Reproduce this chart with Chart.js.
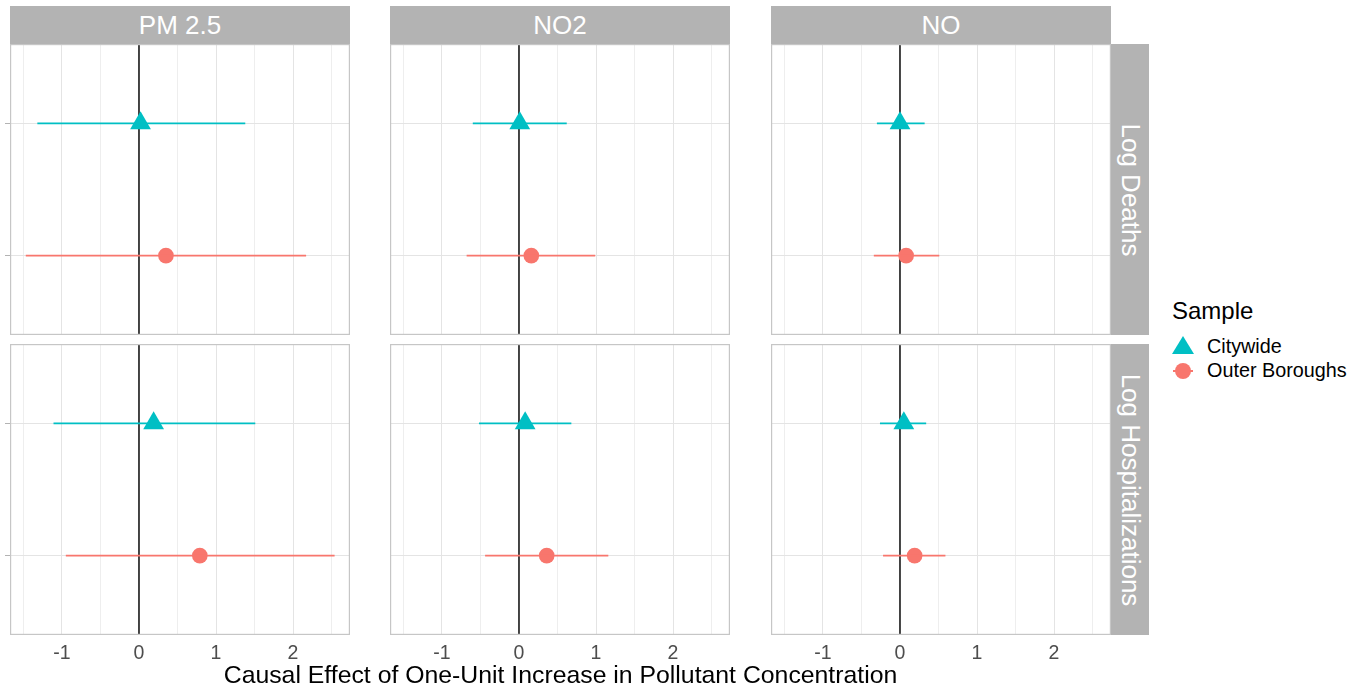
<!DOCTYPE html>
<html>
<head>
<meta charset="utf-8">
<title>Causal effect by pollutant</title>
<script src="https://cdn.jsdelivr.net/npm/chart.js@4.4.0/dist/chart.umd.min.js"></script>
<style>
  body { margin: 0; background: #fff; font-family: "Liberation Sans", Arial, Helvetica, sans-serif; }
  #wrap { position: relative; width: 1366px; height: 690px; overflow: hidden; }
  #wrap canvas { position: absolute; }
  .strip-top { position: absolute; top: 6px; height: 38px; width: 340px; background: #b3b3b3;
               color: #fff; font-size: 26px; line-height: 38px; text-align: center; }
  .strip-right { position: absolute; left: 1111px; width: 38px; background: #b3b3b3; }
  .strip-right span { position: absolute; left: 50%; top: 50%; color: #fff; font-size: 26px;
                      white-space: nowrap; transform: translate(-50%, -50%) rotate(90deg); }
  #xtitle { position: absolute; left: 10px; width: 1101px; top: 660px; line-height: 30px;
            text-align: center; font-size: 24.8px; color: #000; }
  .leg-title { position: absolute; left: 1172px; top: 296px; font-size: 24px; line-height: 30px; }
  .leg-label { position: absolute; left: 1207px; font-size: 19.8px; line-height: 24px; }
  .tri { position: absolute; width: 0; height: 0; border-left: 11px solid transparent;
         border-right: 11px solid transparent; border-bottom: 18px solid #00BFC4; }
  .dot { position: absolute; width: 16px; height: 16px; border-radius: 50%; background: #F8766D; }
  .dash { position: absolute; height: 2px; background: #F8766D; }
</style>
</head>
<body>
<div id="wrap"></div>
<script>
// facets
const pollutants = ['PM 2.5', 'NO2', 'NO'];
const outcomes = ['Log Deaths', 'Log Hospitalizations'];
const samples = ['Citywide', 'Outer Boroughs'];
const sampleColors = ['#00BFC4', '#F8766D'];

// estimates, rows = outcome, cols = pollutant
const citywideEst  = [[0.02, 0.01, 0.00], [0.19, 0.08, 0.05]];
const citywideLow  = [[-1.32, -0.60, -0.30], [-1.11, -0.52, -0.26]];
const citywideHigh = [[1.38, 0.62, 0.32], [1.51, 0.68, 0.34]];
const outerEst  = [[0.35, 0.16, 0.08], [0.79, 0.36, 0.19]];
const outerLow  = [[-1.47, -0.68, -0.34], [-0.95, -0.44, -0.22]];
const outerHigh = [[2.17, 0.99, 0.51], [2.54, 1.16, 0.59]];

const xTicks = [-1.5, -1, -0.5, 0, 0.5, 1, 1.5, 2, 2.5];
const xMin = -1.675, xMax = 2.74;
const refLine = 0;

const wrap = document.getElementById('wrap');
const colLeft = [10, 390, 771];
const rowTop = [44, 344];
const panelW = 340, panelH = 291;

// panel border + zero line
const panelDeco = {
    id: 'panelDeco',
    beforeDatasetsDraw(chart) {
        const { ctx, chartArea: a, scales } = chart;
        const x = scales.x.getPixelForValue(refLine);
        ctx.save();
        ctx.strokeStyle = '#1a1a1a';
        ctx.lineWidth = 1.6;
        ctx.beginPath();
        ctx.moveTo(x, a.top);
        ctx.lineTo(x, a.bottom);
        ctx.stroke();
        ctx.restore();
    },
    afterDraw(chart) {
        const { ctx, chartArea: a } = chart;
        ctx.save();
        ctx.strokeStyle = '#c6c6c6';
        ctx.lineWidth = 1.2;
        ctx.strokeRect(a.left + 0.6, a.top + 0.6, a.right - a.left - 1.2, a.bottom - a.top - 1.2);
        ctx.restore();
    }
};

function makePanel(r, c) {
    const extraL = c === 0 ? 5 : 0;
    const extraB = r === 1 ? 32 : 0;
    const cv = document.createElement('canvas');
    cv.width = panelW + extraL;
    cv.height = panelH + extraB;
    cv.style.left = (colLeft[c] - extraL) + 'px';
    cv.style.top = rowTop[r] + 'px';
    wrap.appendChild(cv);

    const est = [citywideEst[r][c], outerEst[r][c]];
    const low = [citywideLow[r][c], outerLow[r][c]];
    const high = [citywideHigh[r][c], outerHigh[r][c]];

    const datasets = [];
    samples.forEach((s, i) => {
        datasets.push({
            label: s + ' interval',
            data: [{ x: low[i], y: i }, { x: high[i], y: i }],
            showLine: true,
            borderColor: sampleColors[i],
            borderWidth: 1.7,
            pointRadius: 0
        });
    });
    samples.forEach((s, i) => {
        datasets.push({
            label: s,
            data: [{ x: est[i], y: i }],
            pointStyle: i === 0 ? 'triangle' : 'circle',
            pointRadius: i === 0 ? 12 : 7.8,
            backgroundColor: sampleColors[i],
            borderWidth: 0
        });
    });

    new Chart(cv.getContext('2d'), {
        type: 'scatter',
        data: { datasets },
        options: {
            responsive: false,
            animation: false,
            events: [],
            layout: { padding: 0, autoPadding: false },
            plugins: { legend: { display: false }, tooltip: { enabled: false } },
            scales: {
                x: {
                    type: 'linear',
                    min: xMin,
                    max: xMax,
                    afterBuildTicks: s => { s.ticks = xTicks.map(v => ({ value: v })); },
                    afterFit: s => { s.height = extraB; },
                    border: { display: false },
                    grid: {
                        drawTicks: false,
                        color: ctx => Number.isInteger(ctx.tick.value) ? '#e4e4e4' : '#eeeeee',
                        lineWidth: 1
                    },
                    ticks: {
                        display: r === 1,
                        padding: 7,
                        color: '#4d4d4d',
                        font: { family: '"Liberation Sans", Arial, sans-serif', size: 19.5 },
                        callback: v => Number.isInteger(v) ? String(v) : ''
                    }
                },
                y: {
                    type: 'linear',
                    reverse: true,
                    min: -0.6,
                    max: 1.6,
                    afterBuildTicks: s => { s.ticks = samples.map((_, i) => ({ value: i })); },
                    afterFit: s => { s.width = extraL; },
                    border: { display: false },
                    grid: {
                        color: '#e4e4e4',
                        drawTicks: c === 0,
                        tickLength: 5,
                        tickColor: '#b3b3b3'
                    },
                    ticks: { display: false }
                }
            }
        },
        plugins: [panelDeco]
    });
}

outcomes.forEach((o, r) => pollutants.forEach((p, c) => makePanel(r, c)));

// strips
pollutants.forEach((p, c) => {
    const d = document.createElement('div');
    d.className = 'strip-top';
    d.style.left = colLeft[c] + 'px';
    d.textContent = p;
    wrap.appendChild(d);
});
outcomes.forEach((o, r) => {
    const d = document.createElement('div');
    d.className = 'strip-right';
    d.style.top = rowTop[r] + 'px';
    d.style.height = panelH + 'px';
    const sp = document.createElement('span');
    sp.textContent = o;
    d.appendChild(sp);
    wrap.appendChild(d);
});

// axis title
const xt = document.createElement('div');
xt.id = 'xtitle';
xt.textContent = 'Causal Effect of One-Unit Increase in Pollutant Concentration';
wrap.appendChild(xt);

// legend
wrap.insertAdjacentHTML('beforeend',
    '<div class="leg-title">Sample</div>' +
    '<div class="tri" style="left:1172px;top:336px"></div>' +
    '<div class="leg-label" style="top:334px">' + samples[0] + '</div>' +
    '<div class="dash" style="left:1173px;top:370px;width:20px"></div>' +
    '<div class="dot" style="left:1175px;top:363px"></div>' +
    '<div class="leg-label" style="top:358px">' + samples[1] + '</div>');
</script>
</body>
</html>
